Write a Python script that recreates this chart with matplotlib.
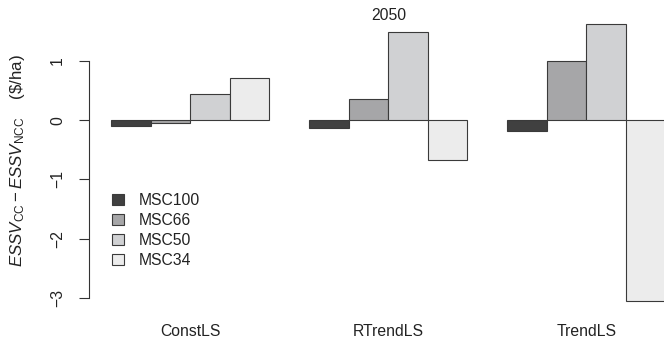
import matplotlib
matplotlib.use('Agg')
import matplotlib.pyplot as plt
from matplotlib.patches import Patch
import numpy as np

plt.rcParams['font.family'] = ['Liberation Sans', 'DejaVu Sans']
plt.rcParams['mathtext.fontset'] = 'custom'
plt.rcParams['mathtext.rm'] = 'Liberation Sans'
plt.rcParams['mathtext.it'] = 'Liberation Sans:italic'

# ESSV difference (climate change minus no climate change), 2050
groups = ['ConstLS', 'RTrendLS', 'TrendLS']
series = ['MSC100', 'MSC66', 'MSC50', 'MSC34']
msc100 = [-0.10, -0.125, -0.19]
msc66 = [-0.04, 0.36, 1.00]
msc50 = [0.44, 1.49, 1.62]
msc34 = [0.71, -0.67, -3.05]
colors = ['#404040', '#a6a6a8', '#d0d1d3', '#ececec']
yticks = [-3, -2, -1, 0, 1]

W, H = 664, 341
fig = plt.figure(figsize=(W / 100, H / 100), dpi=100)
fig.patch.set_facecolor('white')

def fx(px):
    return px / W

def fy(py):
    return 1 - py / H

# plot region in pixels: left 88.8, right 687.6 (runs past the figure edge), top 13, bottom 313
ax = fig.add_axes([fx(88.8), fy(313), (687.6 - 88.8) / W, 300 / H])
ax.set_xlim(-0.56, 14.56)
ax.set_ylim(-3.257, 1.811)

values = [msc100, msc66, msc50, msc34]
for i, (vals, col) in enumerate(zip(values, colors)):
    x = np.arange(len(groups)) * 5 + i
    ax.bar(x, vals, width=1, align='edge', color=col, edgecolor='#3a3a3a',
           linewidth=0.8)

for s in ['top', 'right', 'bottom']:
    ax.spines[s].set_visible(False)
ax.spines['left'].set_bounds(-3, 1)
ax.spines['left'].set_color('#333333')
ax.spines['left'].set_linewidth(0.8)
ax.set_xticks([])
ax.set_yticks(yticks)
ax.set_yticklabels([str(t).replace('-', '\u2212') for t in yticks],
                   rotation=90, va='center', fontsize=11.3, color='#222222')
ax.tick_params(axis='y', length=7, width=0.8, color='#333333', pad=10)

# group labels under each cluster
for k, g in enumerate(groups):
    ax.text(k * 5 + 2, -3.257 - (331.5 - 313) / 59.2, g, ha='center', va='center',
            fontsize=11.3, color='#222222', clip_on=False)

fig.text(fx(388.5), fy(15), '2050', ha='center', va='center', fontsize=11.3,
         color='#222222')
fig.text(fx(18), fy(161),
         r'$\mathit{ESSV}_{\mathrm{CC}} - \mathit{ESSV}_{\mathrm{NCC}}$    (\$/ha)',
         rotation=90, ha='center', va='center', fontsize=12.2, color='#222222')

handles = [Patch(facecolor=c, edgecolor='#3a3a3a', linewidth=0.8) for c in colors]
ax.legend(handles, series, loc='upper left', bbox_to_anchor=(fx(112), fy(193)),
          bbox_transform=fig.transFigure, frameon=False, fontsize=11.3,
          handlelength=0.75, handleheight=0.7, handletextpad=0.95,
          labelspacing=0.31, borderpad=0, borderaxespad=0,
          labelcolor='#222222')

fig.savefig('out.png', dpi=100)
